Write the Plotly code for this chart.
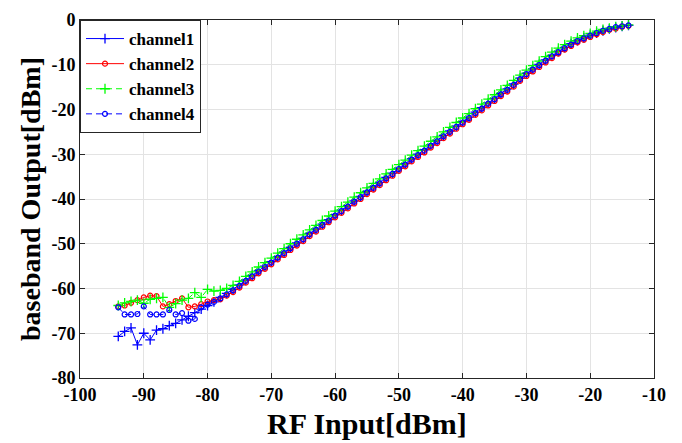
import plotly.graph_objects as go

rf_input = [-94, -93, -92, -91, -90, -89, -88, -87, -86, -85, -84, -83, -82, -81, -80,
            -79, -78, -77, -76, -75, -74, -73, -72, -71, -70, -69, -68, -67, -66, -65,
            -64, -63, -62, -61, -60, -59, -58, -57, -56, -55, -54, -53, -52, -51, -50,
            -49, -48, -47, -46, -45, -44, -43, -42, -41, -40, -39, -38, -37, -36, -35,
            -34, -33, -32, -31, -30, -29, -28, -27, -26, -25, -24, -23, -22, -21, -20,
            -19, -18, -17, -16, -15, -14]

channel1 = [-70.7, -69.6, -68.8, -72.6, -70.0, -71.5, -69.3, -69.0, -68.3, -67.8, -67.0, -66.2, -65.4, -64.6, -63.8,
            -63.0, -62.0, -61.1, -60.2, -59.2, -58.1, -57.1, -56.0, -55.0, -54.0, -52.9, -51.9, -50.8, -49.8, -48.8,
            -47.7, -46.7, -45.6, -44.6, -43.5, -42.5, -41.5, -40.4, -39.4, -38.3, -37.3, -36.3, -35.2, -34.2, -33.1,
            -32.1, -31.0, -30.0, -29.0, -27.9, -26.9, -25.8, -24.8, -23.7, -22.7, -21.7, -20.6, -19.6, -18.5, -17.5,
            -16.4, -15.4, -14.3, -13.0, -11.9, -10.9, -9.9, -8.9, -7.9, -7.0, -6.1, -5.3, -4.6, -4.0, -3.4,
            -2.9, -2.4, -2.0, -1.7, -1.4, -1.2]

channel2 = [-64.0, -63.8, -63.2, -62.6, -62.0, -61.6, -61.7, -64.0, -63.5, -62.8, -62.2, -64.2, -64.0, -63.5, -62.9,
            -62.6, -62.4, -61.6, -60.8, -59.8, -58.7, -57.7, -56.6, -55.6, -54.6, -53.5, -52.5, -51.4, -50.4, -49.4,
            -48.3, -47.3, -46.2, -45.2, -44.1, -43.1, -42.1, -41.0, -40.0, -38.9, -37.9, -36.9, -35.8, -34.8, -33.7,
            -32.7, -31.6, -30.6, -29.6, -28.5, -27.5, -26.4, -25.4, -24.3, -23.3, -22.3, -21.2, -20.2, -19.1, -18.1,
            -17.0, -16.0, -14.9, -13.6, -12.5, -11.5, -10.5, -9.5, -8.5, -7.5, -6.6, -5.8, -5.0, -4.4, -3.8,
            -3.2, -2.7, -2.2, -1.9, -1.5, -1.3]

channel3 = [-63.8, -63.2, -62.9, -62.6, -63.3, -62.4, -62.2, -62.0, -64.2, -63.4, -62.6, -62.2, -60.9, -62.0, -60.2,
            -60.6, -60.4, -60.0, -59.3, -58.4, -57.3, -56.3, -55.2, -54.2, -53.2, -52.1, -51.1, -50.0, -49.0, -48.0,
            -46.9, -45.9, -44.8, -43.8, -42.7, -41.7, -40.7, -39.6, -38.6, -37.5, -36.5, -35.5, -34.4, -33.4, -32.3,
            -31.3, -30.2, -29.2, -28.2, -27.1, -26.1, -25.0, -24.0, -22.9, -21.9, -20.9, -19.8, -18.8, -17.7, -16.7,
            -15.6, -14.6, -13.5, -12.3, -11.2, -10.2, -9.2, -8.2, -7.2, -6.3, -5.5, -4.7, -4.0, -3.5, -3.0,
            -2.5, -2.1, -1.8, -1.5, -1.3, -1.1]

channel4 = [-64.2, -65.8, -65.8, -65.7, -64.0, -65.8, -65.8, -65.8, -64.8, -65.8, -65.5, -67.2, -66.8, -64.2, -63.6,
            -63.0, -62.2, -61.3, -60.4, -59.4, -58.3, -57.3, -56.2, -55.2, -54.2, -53.1, -52.1, -51.0, -50.0, -49.0,
            -47.9, -46.9, -45.8, -44.8, -43.7, -42.7, -41.7, -40.6, -39.6, -38.5, -37.5, -36.5, -35.4, -34.4, -33.3,
            -32.3, -31.2, -30.2, -29.2, -28.1, -27.1, -26.0, -25.0, -23.9, -22.9, -21.9, -20.8, -19.8, -18.7, -17.7,
            -16.6, -15.6, -14.5, -13.2, -12.1, -11.1, -10.1, -9.1, -8.1, -7.2, -6.3, -5.5, -4.7, -4.1, -3.5,
            -2.9, -2.4, -2.0, -1.6, -1.4, -1.2]

x_ticks = [-100, -90, -80, -70, -60, -50, -40, -30, -20, -10]
y_ticks = [0, -10, -20, -30, -40, -50, -60, -70, -80]

x_title = "RF Input[dBm]"
y_title = "baseband Output[dBm]"

FONT = "Liberation Serif, Times New Roman, serif"
AX = "#262626"

series = [
    ("channel1", channel1, "#0000ff", "solid", "cross-thin", 7, 1.3),
    ("channel2", channel2, "#ff0000", "solid", "circle-open", 5, 1.2),
    ("channel3", channel3, "#00ff00", "6px,4px", "cross-thin", 7, 1.3),
    ("channel4", channel4, "#0000ff", "6px,4px", "circle-open", 5, 1.2),
]

fig = go.Figure()
for name, vals, col, dash, sym, sz, mw in series:
    fig.add_trace(go.Scatter(
        x=rf_input, y=vals, name=name, mode="lines+markers",
        line=dict(color=col, width=1, dash=dash),
        marker=dict(symbol=sym, size=sz, color=col, line=dict(color=col, width=mw)),
    ))

axis_common = dict(
    showline=True, linecolor=AX, linewidth=1, mirror="ticks",
    ticks="inside", ticklen=5, tickcolor=AX, tickwidth=1,
    showgrid=True, gridcolor="#e3e3e3", gridwidth=1, zeroline=False,
    automargin=False,
    tickfont=dict(family=FONT, size=18, color="#000000", weight="bold"),
)

# the page body has an 8px margin, so the figure is sized to fit the 682x443 window
fig.update_layout(
    width=674, height=435,
    margin=dict(l=72, r=28, t=12, b=65),
    paper_bgcolor="white", plot_bgcolor="white",
    showlegend=True,
    legend=dict(
        x=0, y=1, xanchor="left", yanchor="top",
        bgcolor="white", bordercolor=AX, borderwidth=1,
        font=dict(family=FONT, size=17, color="#000000", weight="bold"),
        tracegroupgap=0, itemwidth=38,
    ),
    xaxis=dict(range=[-100, -10], tickvals=x_ticks,
               ticktext=[str(v) for v in x_ticks], **axis_common),
    yaxis=dict(range=[-80, 0], tickvals=y_ticks,
               ticktext=[str(v) for v in y_ticks], **axis_common),
    annotations=[
        dict(text=x_title, xref="paper", yref="paper", x=0.5, y=0,
             xanchor="center", yanchor="middle", yshift=-45, showarrow=False,
             font=dict(family=FONT, size=30, color="#000000", weight="bold")),
        dict(text=y_title, xref="paper", yref="paper", x=0, y=0.5,
             xanchor="center", yanchor="middle", xshift=-50, textangle=-90,
             showarrow=False,
             font=dict(family=FONT, size=28, color="#000000", weight="bold")),
    ],
)

fig.write_html("out.html")
